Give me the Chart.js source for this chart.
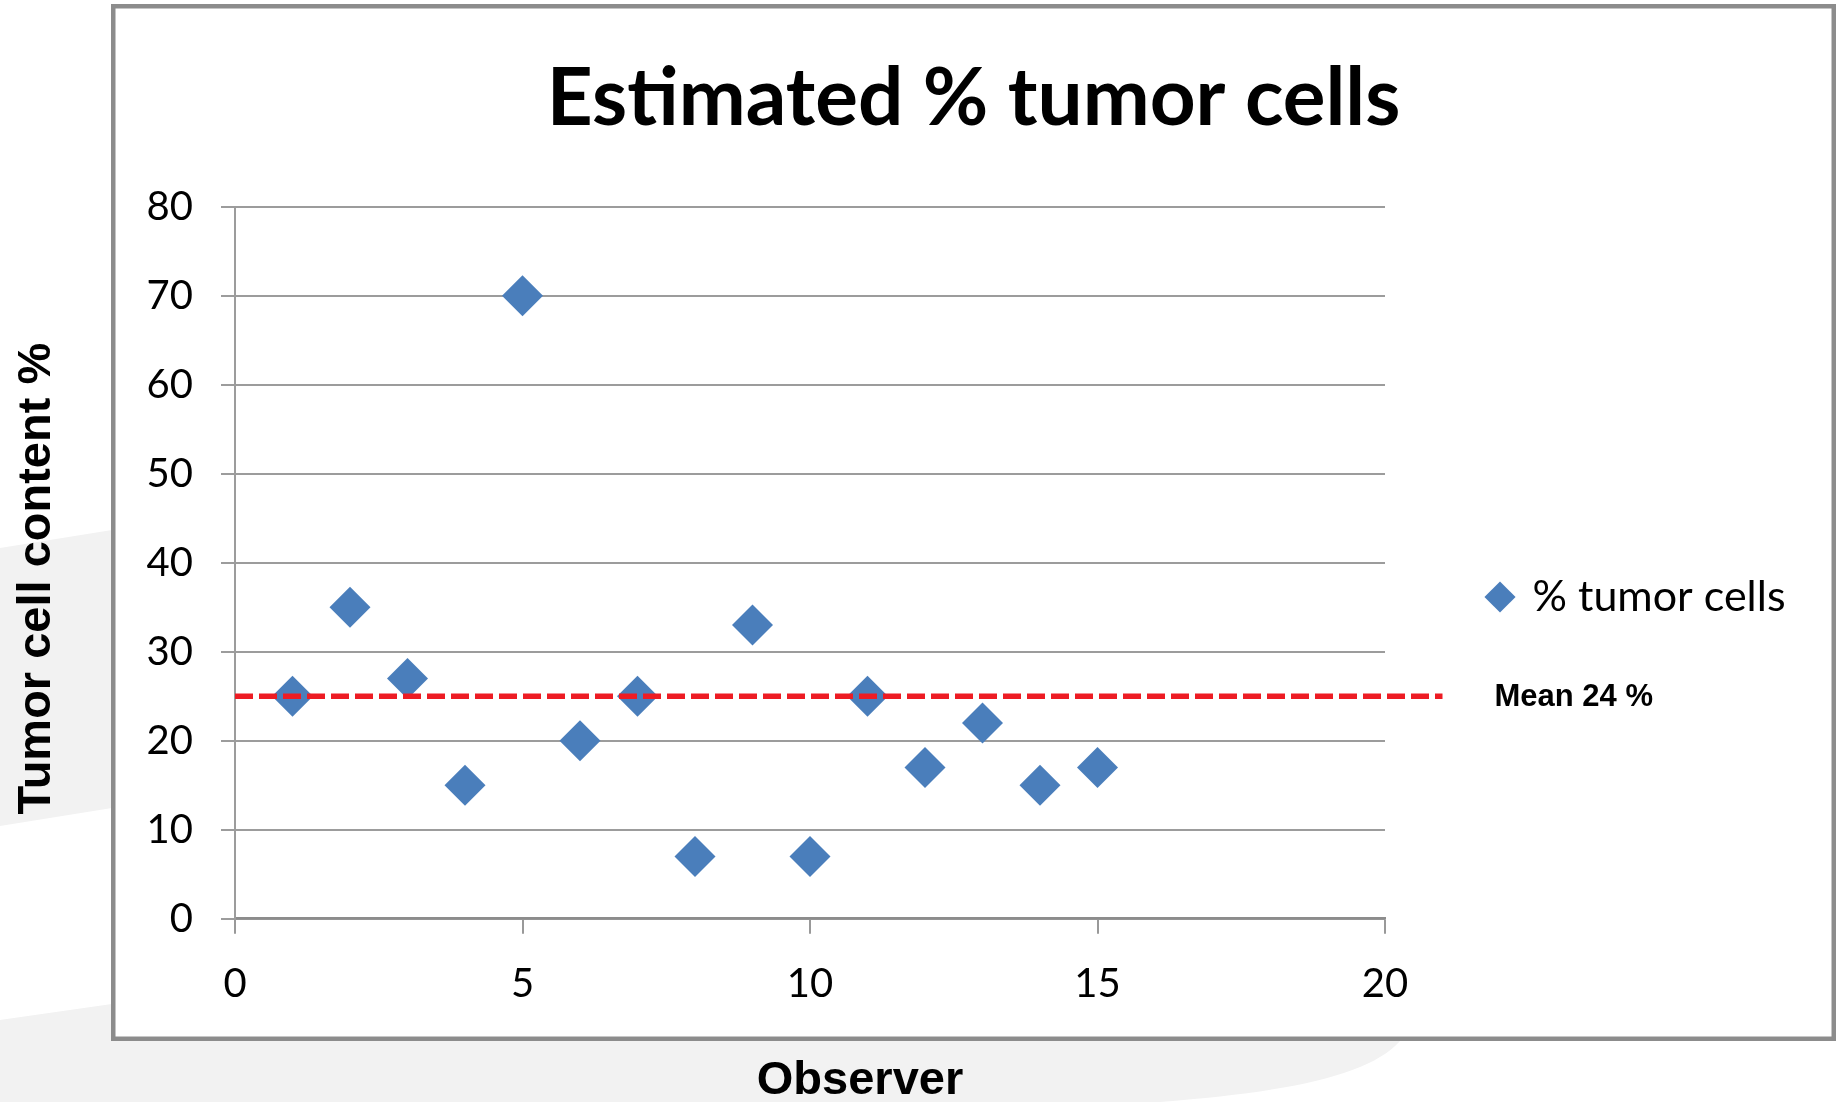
<!DOCTYPE html>
<html>
<head>
<meta charset="utf-8">
<script src="https://cdn.jsdelivr.net/npm/chart.js@4.4.1/dist/chart.umd.min.js"></script>
<style>
  html, body { margin: 0; padding: 0; background: #ffffff; overflow: hidden; }
  #wrap { position: relative; width: 1837px; height: 1102px; }
  #bg, #c { position: absolute; left: 0; top: 0; }
</style>
</head>
<body>
<div id="wrap">
  <svg id="bg" width="1837" height="1102" xmlns="http://www.w3.org/2000/svg">
    <path d="M0,548 L112,530 L112,808 L0,826 Z" fill="#f2f2f2"/>
    <path d="M0,1020 L112,1004 L112,1041 L1400,1041 C1370,1075 1290,1092 1160,1102 L0,1102 Z" fill="#f2f2f2"/>
    <rect x="113.25" y="6.25" width="1720.5" height="1032.5" fill="#ffffff" stroke="#8c8c8c" stroke-width="4.5"/>
  </svg>
  <canvas id="c" width="1837" height="1102"></canvas>
</div>
<script>
// ---------------- data ----------------
const chartTitle = 'Estimated % tumor cells';
const xAxisTitle = 'Observer';
const yAxisTitle = 'Tumor cell content %';
const seriesLabel = '% tumor cells';
const meanLabel = 'Mean 24 %';

const observers = [1, 2, 3, 4, 5, 6, 7, 8, 9, 10, 11, 12, 13, 14, 15];
const tumorPct  = [25, 35, 27, 15, 70, 20, 25, 7, 33, 7, 25, 17, 22, 15, 17];

const meanLineX = [0, 21];
const meanLineY = [25, 25];

const xTicksRange = [0, 20];
const xTickStep = 5;
const yTicksRange = [0, 80];
const yTickStep = 10;

// ---------------- layout constants ----------------
const PLOT_LEFT = 235;
const PLOT_BOTTOM = 918.7;
const BOX_LEFT = 111, BOX_RIGHT = 1836;
const LEGEND_ITEM_X = 1489;
const LEGEND_ITEM_Y = 597;
const LEGEND_FONT = 43;
const LEGEND_PAD = 200;

const scatterPoints = observers.map((x, i) => ({ x: x, y: tumorPct[i] }));
const meanPoints = meanLineX.map((x, i) => ({ x: x, y: meanLineY[i] }));

function shiftTitle(scale, dx, dy) {
  if (!scale || scale.$titleShifted) return;
  const orig = scale.drawTitle;
  scale.drawTitle = function () {
    const s = { l: this.left, r: this.right, t: this.top, b: this.bottom };
    this.left += dx; this.right += dx; this.top += dy; this.bottom += dy;
    try { orig.call(this); } finally {
      this.left = s.l; this.right = s.r; this.top = s.t; this.bottom = s.b;
    }
  };
  scale.$titleShifted = true;
}

const layoutTweaks = {
  id: 'layoutTweaks',
  afterLayout(chart) {
    const t = chart.titleBlock;
    if (t) { t.left = BOX_LEFT; t.right = BOX_RIGHT; t.width = BOX_RIGHT - BOX_LEFT; }
    const lg = chart.legend;
    if (lg) {
      lg.left = LEGEND_ITEM_X - LEGEND_PAD;
      lg.right = chart.width;
      lg.width = lg.right - lg.left;
      lg.top = LEGEND_ITEM_Y - LEGEND_FONT / 2 - LEGEND_PAD;
      lg.bottom = chart.height;
      lg.height = lg.bottom - lg.top;
    }
    shiftTitle(chart.scales.x, 50, 0);
    shiftTitle(chart.scales.y, 0, 16);
  },
  afterDatasetsDraw(chart) {
    const xs = chart.scales.x, ys = chart.scales.y;
    const ctx = chart.ctx;
    ctx.save();
    ctx.font = 'bold 31px "Liberation Sans", Arial, sans-serif';
    ctx.fillStyle = '#000000';
    ctx.textAlign = 'left';
    ctx.textBaseline = 'middle';
    ctx.fillText(meanLabel, xs.getPixelForValue(meanLineX[1]) + 52, ys.getPixelForValue(meanLineY[1]) + 1);
    ctx.restore();
  }
};

new Chart(document.getElementById('c'), {
  type: 'scatter',
  data: {
    datasets: [
      {
        label: 'Mean',
        data: meanPoints,
        showLine: true,
        borderColor: '#ed1c24',
        borderWidth: 5.5,
        borderDash: [18, 6],
        pointRadius: 0,
        clip: false,
        order: 0
      },
      {
        label: seriesLabel,
        data: scatterPoints,
        pointStyle: 'rectRot',
        pointRadius: 20.5,
        backgroundColor: '#4a7ebb',
        borderColor: '#4a7ebb',
        borderWidth: 0,
        pointBorderWidth: 0,
        order: 1
      }
    ]
  },
  options: {
    responsive: false,
    animation: false,
    devicePixelRatio: 1,
    events: [],
    layout: { padding: { left: 0, right: 0, top: 0, bottom: 0 } },
    plugins: {
      tooltip: { enabled: false },
      title: {
        display: true,
        text: chartTitle,
        color: '#000000',
        font: { family: 'Lato', weight: 'bold', size: 80, lineHeight: 1.2 },
        padding: { top: 51, bottom: 59.7 }
      },
      legend: {
        display: true,
        position: 'right',
        align: 'start',
        maxWidth: 452,
        labels: {
          usePointStyle: true,
          boxWidth: 22,
          boxHeight: 22,
          padding: LEGEND_PAD,
          color: '#000000',
          font: { family: 'Lato', size: LEGEND_FONT },
          filter: (item) => item.datasetIndex === 1
        }
      }
    },
    scales: {
      x: {
        type: 'linear',
        position: 'bottom',
        min: xTicksRange[0],
        max: xTicksRange[1],
        ticks: {
          stepSize: xTickStep,
          color: '#000000',
          padding: 26,
          font: { family: 'Lato', size: 40 }
        },
        grid: {
          display: true,
          drawOnChartArea: false,
          drawTicks: true,
          tickLength: 15,
          color: '#999999',
          lineWidth: 2
        },
        border: { display: true, color: '#8c8c8c', width: 2.5 },
        title: {
          display: true,
          text: xAxisTitle,
          color: '#000000',
          font: { family: '"Liberation Sans", Arial, sans-serif', weight: 'bold', size: 47, lineHeight: 0.9 },
          padding: { top: 0, bottom: 0 }
        },
        afterFit(scale) { scale.height = scale.chart.height - PLOT_BOTTOM; }
      },
      y: {
        type: 'linear',
        position: 'left',
        min: yTicksRange[0],
        max: yTicksRange[1],
        ticks: {
          stepSize: yTickStep,
          color: '#000000',
          padding: 28,
          font: { family: 'Lato', size: 40 }
        },
        grid: {
          display: true,
          drawTicks: true,
          tickLength: 14,
          color: '#9c9c9c',
          lineWidth: 2
        },
        border: { display: true, color: '#9c9c9c', width: 2 },
        title: {
          display: true,
          text: yAxisTitle,
          color: '#000000',
          font: { family: '"Liberation Sans", Arial, sans-serif', weight: 'bold', size: 47, lineHeight: 1 },
          padding: { top: 14, bottom: 0 }
        },
        afterFit(scale) { scale.width = PLOT_LEFT; }
      }
    }
  },
  plugins: [layoutTweaks]
});
</script>
</body>
</html>
